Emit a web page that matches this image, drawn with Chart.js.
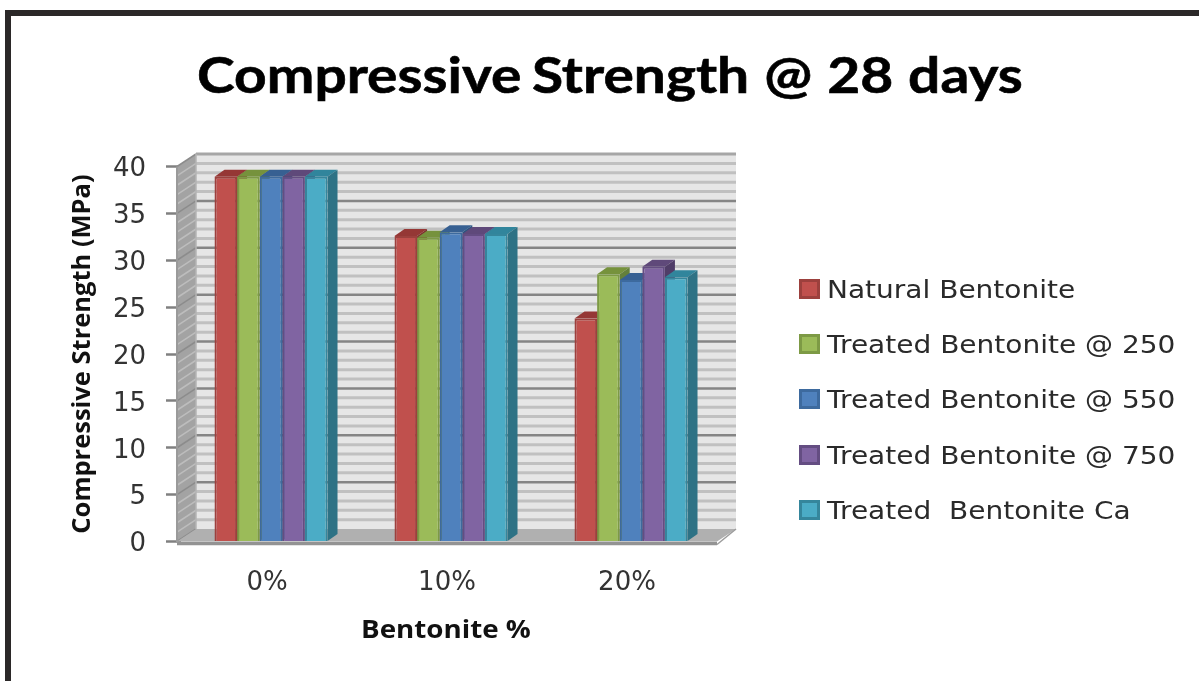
<!DOCTYPE html>
<html>
<head>
<meta charset="utf-8">
<title>Compressive Strength @ 28 days</title>
<script src="https://cdn.jsdelivr.net/npm/chart.js@4/dist/chart.umd.min.js"></script>
<style>
  html, body { margin: 0; background: #fff; }
  #page { position: relative; width: 1199px; height: 681px; overflow: hidden; }
  #frame { position: absolute; left: 5px; top: 10px; width: 1300px; height: 800px; border-left: 6px solid #2b2828; border-top: 6px solid #2b2828; }
  canvas { position: absolute; left: 0; top: 0; }
  h1 { position: absolute; left: 197px; top: 44px; margin: 0; font: 700 50px Lato, sans-serif; word-spacing: 1px; -webkit-text-stroke: 0.6px #000; color: #000; white-space: nowrap; transform-origin: left top; transform: scaleX(1.138); }
  h1 span { margin-right: -4px; }
  #xTitle { position: absolute; left: 361px; top: 611px; font: 700 25px "Open Sans", sans-serif; color: #111; white-space: nowrap; transform-origin: left top; transform: scaleX(1.11); }
  #legend { position: absolute; left: 799px; top: 263px; font: 25px "DejaVu Sans", sans-serif; color: #2a2a2a; }
  #legend div { height: 55.2px; line-height: 54px; white-space: pre; }
  #legend i { display: inline-block; width: 15px; height: 14px; border: 3px solid; margin-right: 7px; vertical-align: -1px; }
  #legend span { display: inline-block; transform-origin: left center; transform: scaleX(1.12); }
</style>
</head>
<body>
<div id="page">
  <div id="frame"></div>
  <canvas id="chart" width="1199" height="681"></canvas>
  <h1><span>Compressive</span> Strength @ 28 days</h1>
  <div id="xTitle">Bentonite %</div>
  <div id="legend"></div>
</div>
<script>
const categories = ['0%', '10%', '20%'];
const seriesNames = ['Natural Bentonite', 'Treated Bentonite @ 250', 'Treated Bentonite @ 550', 'Treated Bentonite @ 750', 'Treated  Bentonite Ca'];
const naturalValues = [38.9, 32.6, 23.8];
const treated250Values = [38.9, 32.4, 28.5];
const treated550Values = [38.9, 33.0, 27.9];
const treated750Values = [38.9, 32.8, 29.3];
const treatedCaValues = [38.9, 32.8, 28.2];
const seriesValues = [naturalValues, treated250Values, treated550Values, treated750Values, treatedCaValues];

const faceColors = ['#c0504d', '#9bbb59', '#4f81bd', '#8064a2', '#4bacc6'];
const edgeColors = ['#9c403d', '#7d9a45', '#3d6a9e', '#644d82', '#35869c'];
const topColors = ['#953735', '#76923c', '#376092', '#5f497a', '#31859c'];
const sideColors = ['#7f2f2d', '#64803a', '#2c5480', '#503d68', '#2e7285'];

// wall and bar depth of the fake 3D look; the box sits a little left of the bars
const wallDx = 19, wallDy = 12.5;
const barDx = 10, barDy = 7;
const boxShift = 4;

function poly(ctx, pts, fill) {
  ctx.beginPath();
  pts.forEach((p, i) => i ? ctx.lineTo(p[0], p[1]) : ctx.moveTo(p[0], p[1]));
  ctx.closePath();
  ctx.fillStyle = fill;
  ctx.fill();
}

function line(ctx, x1, y1, x2, y2, color, width) {
  ctx.beginPath();
  ctx.moveTo(x1, y1);
  ctx.lineTo(x2, y2);
  ctx.strokeStyle = color;
  ctx.lineWidth = width;
  ctx.stroke();
}

const depthPlugin = {
  id: 'depth',
  beforeDatasetsDraw(chart) {
    const ctx = chart.ctx;
    const left = chart.chartArea.left - boxShift;
    const right = chart.chartArea.right - boxShift;
    const y = chart.scales.y;
    const y0 = y.getPixelForValue(y.min);
    const yTop = y.getPixelForValue(y.max);
    ctx.save();

    // back wall, side wall
    ctx.fillStyle = '#e6e6e6';
    ctx.fillRect(left + wallDx, yTop - wallDy, right - left, y0 - yTop);
    poly(ctx, [[left, y0], [left, yTop], [left + wallDx, yTop - wallDy], [left + wallDx, y0 - wallDy]], '#a3a3a3');

    for (let v = y.min; v <= y.max; v++) {
      const py = y.getPixelForValue(v);
      const major = v % 5 === 0;
      if (v > y.min && v < y.max) {
        line(ctx, left + wallDx, py - wallDy, right + wallDx, py - wallDy, major ? '#858585' : '#c0c0c0', major ? 2.5 : 3);
      }
      line(ctx, left, py, left + wallDx, py - wallDy, major ? '#8c8c8c' : '#bdbdbd', 1.5);
    }
    line(ctx, left + wallDx, yTop - wallDy, right + wallDx, yTop - wallDy, '#a6a6a6', 3);
    line(ctx, left, y0 + 1, left, yTop, '#9a9a9a', 2);
    line(ctx, left + wallDx, y0 - wallDy, left + wallDx, yTop - wallDy, '#b5b5b5', 1.5);

    // floor
    poly(ctx, [[left, y0], [right, y0], [right + wallDx, y0 - wallDy], [left + wallDx, y0 - wallDy]], '#b0b0b0');
    line(ctx, left, y0 + 2, right, y0 + 2, '#939393', 3.5);
    line(ctx, right, y0 + 3, right + wallDx, y0 - wallDy, '#9c9c9c', 1.5);

    // tops and sides go first so the fronts drawn by the library cover them
    seriesValues.forEach((values, i) => {
      chart.getDatasetMeta(i).data.forEach(bar => {
        const l = bar.x - bar.width / 2, r = bar.x + bar.width / 2;
        poly(ctx, [[l, bar.y], [l + barDx, bar.y - barDy], [r + barDx, bar.y - barDy], [r, bar.y]], topColors[i]);
        poly(ctx, [[r, bar.y], [r + barDx, bar.y - barDy], [r + barDx, bar.base - barDy], [r, bar.base]], sideColors[i]);
      });
    });
    ctx.restore();
  }
};

new Chart(document.getElementById('chart'), {
  type: 'bar',
  data: {
    labels: categories,
    datasets: seriesNames.map((name, i) => ({
      label: name,
      data: seriesValues[i],
      backgroundColor: faceColors[i],
      borderColor: edgeColors[i],
      borderWidth: 2,
      categoryPercentage: 0.628,
      barPercentage: 1
    }))
  },
  options: {
    responsive: false,
    animation: false,
    layout: { padding: { left: 67, right: 478, top: 166.5, bottom: 30 } },
    plugins: { legend: { display: false }, title: { display: false }, tooltip: { enabled: false } },
    scales: {
      x: {
        grid: { display: false },
        border: { display: false },
        ticks: { color: '#333', font: { family: 'DejaVu Sans', size: 26 }, padding: 18, maxRotation: 0, labelOffset: -4 },
        afterFit(scale) { scale.height = 109.5; }
      },
      y: {
        min: 0,
        max: 40,
        ticks: { stepSize: 5, color: '#333', font: { family: 'DejaVu Sans', size: 26 }, padding: 20, labelOffset: 3 },
        grid: { drawOnChartArea: false, tickLength: 15, tickColor: '#808080', tickWidth: 2.5 },
        border: { display: false },
        title: { display: true, text: 'Compressive Strength (MPa)', color: '#111', font: { family: 'Open Sans', size: 25.5, weight: 'bold' }, padding: { top: 0, bottom: 0 } },
        afterFit(scale) { scale.width = 114; }
      }
    }
  },
  plugins: [depthPlugin]
});

// legend beside the plot
const legendBox = document.getElementById('legend');
seriesNames.forEach((name, i) => {
  const row = document.createElement('div');
  const swatch = document.createElement('i');
  const text = document.createElement('span');
  swatch.style.background = faceColors[i];
  swatch.style.borderColor = edgeColors[i];
  text.textContent = name;
  row.appendChild(swatch);
  row.appendChild(text);
  legendBox.appendChild(row);
});
</script>
</body>
</html>
